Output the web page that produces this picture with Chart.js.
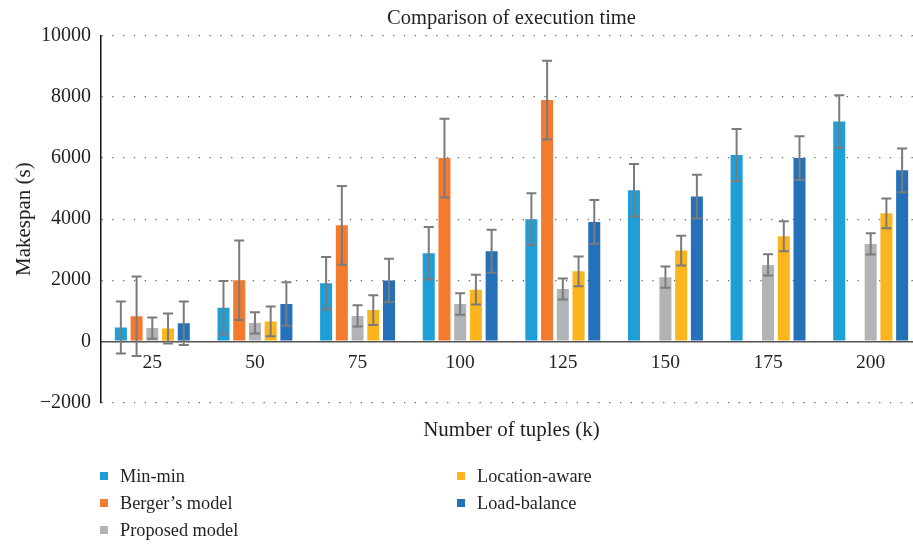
<!DOCTYPE html>
<html>
<head>
<meta charset="utf-8">
<script src="https://cdn.jsdelivr.net/npm/chart.js@4/dist/chart.umd.min.js"></script>
<style>
  html, body { margin: 0; padding: 0; background: #fff; overflow: hidden; width: 913px; height: 546px; }
  #wrap { position: relative; width: 922px; height: 546px; }
  #legend { position: absolute; left: 0; top: 0; font-family: "Liberation Serif", serif; font-size: 18.3px; color: #231f20; }
  .item { position: absolute; white-space: nowrap; line-height: 20px; }
  .item span.box { position: absolute; width: 8px; height: 8px; top: 6px; }
  .item span.txt { position: absolute; left: 20px; top: 0; }
</style>
</head>
<body>
<div id="wrap">
  <canvas id="chart" width="922" height="546"></canvas>
  <div id="legend"></div>
</div>
<script>
const categories = ['25', '50', '75', '100', '125', '150', '175', '200'];

const minMin   = [450, 1100, 1900, 2880, 4000, 4950, 6100, 7200];
const berger   = [820, 2000, 3800, 6000, 7900, null, null, null];
const proposed = [430, 600, 830, 1220, 1710, 2100, 2500, 3190];
const locAware = [420, 650, 1020, 1690, 2290, 2970, 3440, 4190];
const loadBal  = [590, 1220, 1990, 2950, 3910, 4740, 6000, 5600];

// error bar half-lengths
const minMinErr   = [850, 870, 860, 860, 850, 860, 850, 860];
const bergerErr   = [1300, 1300, 1290, 1290, 1290, null, null, null];
const proposedErr = [350, 350, 350, 350, 345, 350, 350, 345];
const locAwareErr = [490, 490, 490, 490, 490, 490, 490, 490];
const loadBalErr  = [710, 710, 710, 705, 715, 715, 715, 715];

const yTicks = [-2000, 0, 2000, 4000, 6000, 8000, 10000];

const serif = '"Liberation Serif", serif';
const ink = '#231f20';

const series = [
    { label: 'Min-min', data: minMin, err: minMinErr, color: '#1e9fd8' },
    { label: 'Berger\u2019s model', data: berger, err: bergerErr, color: '#f37a2f' },
    { label: 'Proposed model', data: proposed, err: proposedErr, color: '#b1b3b6' },
    { label: 'Location-aware', data: locAware, err: locAwareErr, color: '#fdb51d' },
    { label: 'Load-balance', data: loadBal, err: loadBalErr, color: '#2471ba' }
];

// whiskers drawn through the chart's own scales
const errorBars = {
    id: 'errorBars',
    afterDatasetsDraw(chart) {
        const ctx = chart.ctx;
        const y = chart.scales.y;
        ctx.save();
        ctx.strokeStyle = '#7b7b7b';
        ctx.lineWidth = 2;
        chart.data.datasets.forEach((ds, i) => {
            const meta = chart.getDatasetMeta(i);
            meta.data.forEach((bar, j) => {
                const v = ds.data[j];
                const e = ds.errors[j];
                if (v == null || e == null) return;
                const top = y.getPixelForValue(v + e);
                const bot = y.getPixelForValue(v - e);
                ctx.beginPath();
                ctx.moveTo(bar.x, top);
                ctx.lineTo(bar.x, bot);
                ctx.moveTo(bar.x - 5, top);
                ctx.lineTo(bar.x + 5, top);
                ctx.moveTo(bar.x - 5, bot);
                ctx.lineTo(bar.x + 5, bot);
                ctx.stroke();
            });
        });
        ctx.restore();
    }
};

const chart = new Chart(document.getElementById('chart'), {
    type: 'bar',
    data: {
        labels: categories,
        datasets: series.map(s => ({
            label: s.label,
            data: s.data,
            errors: s.err,
            backgroundColor: s.color,
            borderWidth: 0,
            categoryPercentage: 0.766,
            barPercentage: 0.765
        }))
    },
    options: {
        responsive: false,
        animation: false,
        layout: { padding: { left: 0, right: 0, top: 0, bottom: 103 } },
        plugins: {
            legend: { display: false },
            tooltip: { enabled: false },
            title: {
                display: true,
                fullSize: false,
                text: 'Comparison of execution time',
                color: ink,
                font: { family: serif, size: 20.5, weight: 'normal' },
                padding: { top: 6, bottom: 5.4 }
            },
            subtitle: {
                display: true,
                fullSize: false,
                position: 'bottom',
                weight: 500,
                text: 'Number of tuples (k)',
                color: ink,
                font: { family: serif, size: 21, weight: 'normal' },
                padding: { top: 15.5, bottom: 0 }
            }
        },
        scales: {
            x: {
                position: { y: 0 },
                grid: { display: false, drawTicks: false },
                border: { display: true, color: '#555', width: 1.5 },
                ticks: {
                    color: ink,
                    padding: 10,
                    font: { family: serif, size: 19.5 }
                }
            },
            y: {
                min: -2000,
                max: 10000,
                afterFit(s) { s.width = 101; },
                afterBuildTicks(s) { s.ticks = yTicks.map(v => ({ value: v })); },
                grid: { color: '#666', lineWidth: 1.3, drawTicks: false },
                border: { display: true, color: '#111', width: 1.5, dash: [1.3, 9.5] },
                ticks: {
                    color: ink,
                    padding: 10,
                    font: { family: serif, size: 20 },
                    callback: v => String(v).replace('-', '\u2212')
                },
                title: {
                    display: true,
                    text: 'Makespan (s)',
                    color: ink,
                    font: { family: serif, size: 21 },
                    padding: { top: 12, bottom: 0 }
                }
            }
        }
    },
    plugins: [errorBars]
});

// two-column legend, filled column by column like the original
const legend = document.getElementById('legend');
const legendSpots = [
    [100, 466], [100, 493], [100, 520],
    [457, 466], [457, 493]
];
chart.data.datasets.forEach((ds, i) => {
    const item = document.createElement('div');
    item.className = 'item';
    item.style.left = legendSpots[i][0] + 'px';
    item.style.top = legendSpots[i][1] + 'px';
    item.innerHTML = '<span class="box" style="background:' + ds.backgroundColor + '"></span><span class="txt"></span>';
    item.querySelector('.txt').textContent = ds.label;
    legend.appendChild(item);
});
</script>
</body>
</html>
